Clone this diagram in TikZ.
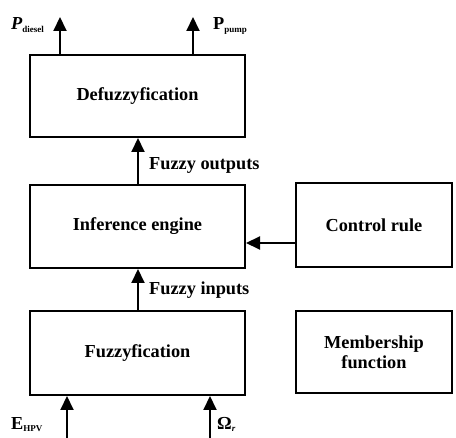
\documentclass[tikz,border=0pt]{standalone}
\usepackage{fontspec}
\setmainfont{Liberation Serif}
\usetikzlibrary{arrows.meta}
\newcommand{\lblfont}{\fontsize{18.3}{22}\selectfont\bfseries}
\newcommand{\subfont}{\fontsize{9}{9}\selectfont\bfseries}
\begin{document}
\begin{tikzpicture}[x=1pt,y=-1pt,
  blk/.style={draw,line width=2pt,inner sep=0pt,font=\lblfont,align=center},
  flow/.style={line width=2pt,-{Triangle[width=13pt,length=14pt]}},
  lbl/.style={font=\lblfont,inner sep=0pt}]
\useasboundingbox (0,0) rectangle (456,438);
\node[blk,minimum width=215pt,minimum height=82pt] (defuzz) at (137.5,96) {Defuzzyfication};
\node[blk,minimum width=215pt,minimum height=83pt] (infer) at (137.5,226.5) {Inference engine};
\node[blk,minimum width=215pt,minimum height=84pt] (fuzz) at (137.5,353) {Fuzzyfication};
\node[blk,minimum width=156pt,minimum height=84pt] (rule) at (374,225) {Control rule};
\node[blk,minimum width=156pt,minimum height=82pt] (member) at (374,352) {Membership\\[-2pt]function};
% outputs
\coordinate (pd) at (60,17);
\coordinate (pp) at (193,17);
\draw[flow] (defuzz.north -| pd) -- (pd);
\draw[flow] (defuzz.north -| pp) -- (pp);
\node[lbl,anchor=base west] (pdl) at (11,30) {\itshape P\raisebox{-3pt}{\subfont\upshape diesel}};
\node[lbl,anchor=base west] (ppl) at (213,30) {P\raisebox{-3pt}{\subfont pump}};
% internal
\coordinate (mx) at (138,0);
\draw[flow] (infer.north -| mx) -- (defuzz.south -| mx);
\draw[flow] (fuzz.north -| mx) -- (infer.south -| mx);
\node[lbl,anchor=west] (fo) at (149,165) {Fuzzy outputs};
\node[lbl,anchor=west] (fi) at (149,290) {Fuzzy inputs};
\coordinate (ry) at (0,243);
\draw[flow] (rule.west |- ry) -- (infer.east |- ry);
% inputs
\coordinate (e1) at (67,438);
\coordinate (e2) at (210,438);
\draw[flow] (e1) -- (fuzz.south -| e1);
\draw[flow] (e2) -- (fuzz.south -| e2);
\node[lbl,anchor=base west] (el) at (11,430) {E\raisebox{-2pt}{\subfont HPV}};
\node[lbl,anchor=base west] (ol) at (217,430) {Ω\raisebox{-2pt}{\subfont\itshape r}};
\end{tikzpicture}
\end{document}
